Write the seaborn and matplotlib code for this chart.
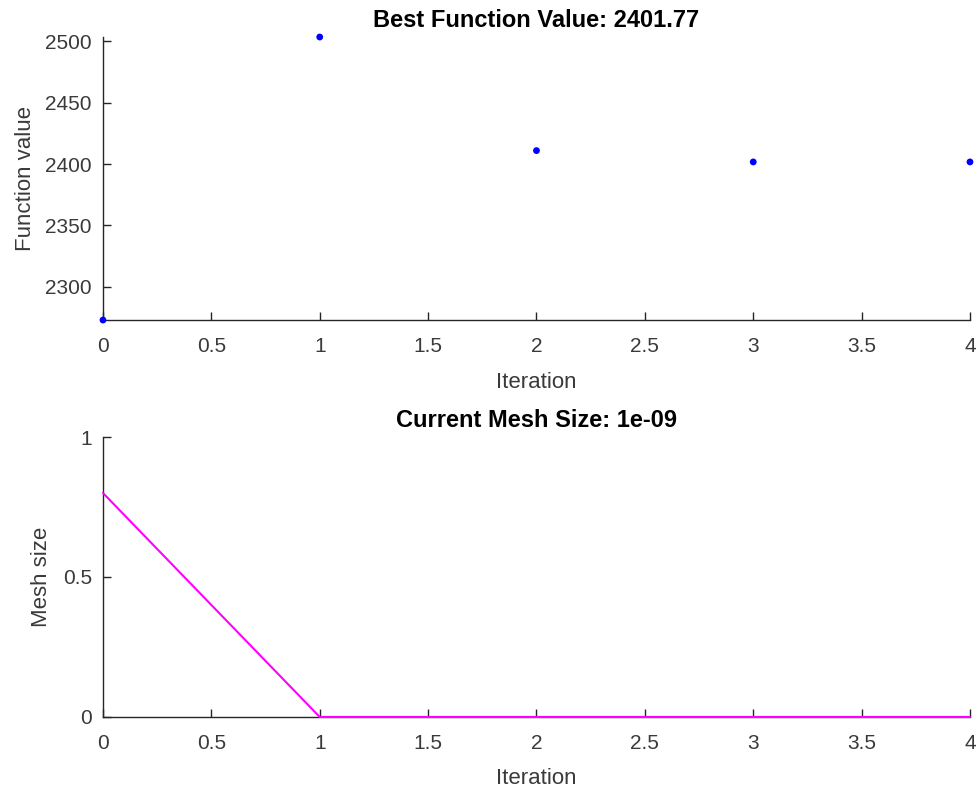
import numpy as np
import pandas as pd
import matplotlib
matplotlib.use("Agg")
import matplotlib.pyplot as plt
import seaborn as sns

# data
iterations = [0, 1, 2, 3, 4]
function_values = [2273.0, 2503.5, 2411.0, 2401.77, 2401.77]
mesh_sizes = [0.8, 1e-9, 1e-9, 1e-9, 1e-9]

x_ticks = [0, 0.5, 1, 1.5, 2, 2.5, 3, 3.5, 4]
x_tick_labels = ["0", "0.5", "1", "1.5", "2", "2.5", "3", "3.5", "4"]
fval_ticks = [2300, 2350, 2400, 2450, 2500]
mesh_ticks = [0, 0.5, 1]
mesh_tick_labels = ["0", "0.5", "1"]

df = pd.DataFrame({"iter": iterations, "fval": function_values, "mesh": mesh_sizes})

sns.set_style("white")
plt.rcParams["font.family"] = ["Liberation Sans", "DejaVu Sans"]
axis_color = "#262626"
text_color = "#3a3a3a"
plt.rcParams.update({
    "axes.edgecolor": axis_color,
    "axes.linewidth": 1.0,
    "xtick.color": axis_color,
    "ytick.color": axis_color,
    "xtick.direction": "in",
    "ytick.direction": "in",
    "xtick.major.size": 6,
    "ytick.major.size": 6,
    "xtick.major.width": 1.0,
    "ytick.major.width": 1.0,
    "xtick.bottom": True,
    "ytick.left": True,
})

fig = plt.figure(figsize=(9.78, 7.91), dpi=100)
ax1 = fig.add_axes([0.1053, 0.5954, 0.8865, 0.3578])
ax2 = fig.add_axes([0.1053, 0.0936, 0.8865, 0.3539])

tick_fs = 15
label_fs = 16
title_fs = 17

# top: best function value per iteration
sns.scatterplot(data=df, x="iter", y="fval", ax=ax1, color="#0000FF", s=24,
                edgecolor="none", clip_on=False, zorder=3)
ax1.set_xlim(0, 4)
ax1.set_ylim(min(function_values), max(function_values))
ax1.set_xticks(x_ticks)
ax1.set_xticklabels(x_tick_labels)
ax1.set_yticks(fval_ticks)
ax1.set_title("Best Function Value: 2401.77", fontsize=title_fs, fontweight="bold",
              color="black", pad=7)
ax1.set_xlabel("Iteration", fontsize=label_fs, color=text_color, labelpad=12)
ax1.set_ylabel("Function value", fontsize=label_fs, color=text_color, labelpad=7)

# bottom: mesh size per iteration
sns.lineplot(data=df, x="iter", y="mesh", ax=ax2, color="#FF00FF", linewidth=1.5,
             clip_on=False, zorder=3)
ax2.set_xlim(0, 4)
ax2.set_ylim(0, 1)
ax2.set_xticks(x_ticks)
ax2.set_xticklabels(x_tick_labels)
ax2.set_yticks(mesh_ticks)
ax2.set_yticklabels(mesh_tick_labels)
ax2.set_title("Current Mesh Size: 1e-09", fontsize=title_fs, fontweight="bold",
              color="black", pad=7)
ax2.set_xlabel("Iteration", fontsize=label_fs, color=text_color, labelpad=11)
ax2.set_ylabel("Mesh size", fontsize=label_fs, color=text_color, labelpad=8)

for ax in (ax1, ax2):
    sns.despine(ax=ax)
    ax.tick_params(axis="x", labelsize=tick_fs, pad=12, labelcolor=text_color)
    ax.tick_params(axis="y", labelsize=tick_fs, pad=8, labelcolor=text_color)

fig.savefig("out.png", dpi=100, facecolor="white")
